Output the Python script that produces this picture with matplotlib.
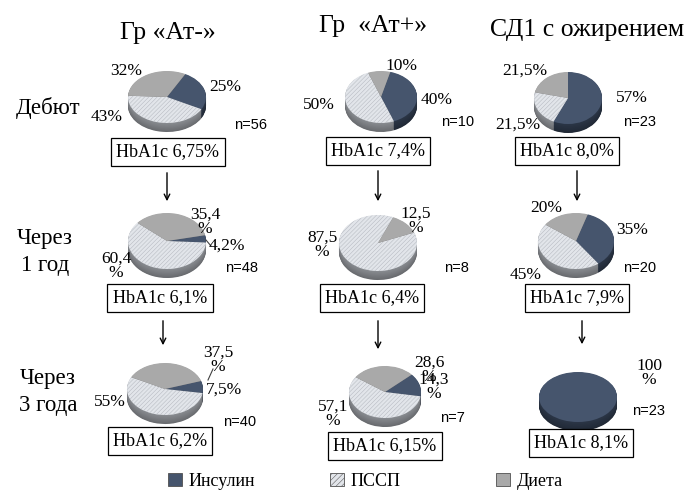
import numpy as np
import matplotlib
matplotlib.use('Agg')
import matplotlib.pyplot as plt
from matplotlib.patches import Patch
from matplotlib.colors import to_rgb

# данные
groups = ['Гр «Ат-»', 'Гр  «Ат+»', 'СД1 с ожирением']
periods = ['Дебют', 'Через\n1 год', 'Через\n3 года']
categories = ['Инсулин', 'ПССП', 'Диета']
insulin = [[25, 40, 57], [4.2, 0, 35], [7.5, 14.3, 100]]
pssp = [[43, 50, 21.5], [60.4, 87.5, 45], [55, 57.1, 0]]
dieta = [[32, 10, 21.5], [35.4, 12.5, 20], [37.5, 28.6, 0]]
n_patients = [[56, 10, 23], [48, 8, 20], [40, 7, 23]]
hba1c = [['6,75', '7,4', '8,0'], ['6,1', '6,4', '7,9'], ['6,2', '6,15', '8,1']]

W, H = 697, 493
top_cols = ['#46556d', '#e2e5ea', '#a9a9a9']
side_cols = ['#2c3748', '#8c8f94', '#6f6f6f']
plt.rcParams['hatch.linewidth'] = 0.35
serif = ['Liberation Serif', 'DejaVu Serif']
sans = ['Liberation Sans', 'DejaVu Sans']

# раскладка (пиксели): центр пирога, rx, ry, стартовый угол
pie_pos = [[(167, 97, 39, 26, 62), (381, 97, 36, 26, 75), (568, 98, 34, 26, 90)],
           [(167, 241, 39, 28, 12), (378, 243, 39, 28, 22), (576, 241, 38, 28, 72)],
           [(165, 389, 38, 26, 18), (385, 392, 36, 26, 42), (578, 397, 39, 25, 90)]]
thick = 9
box_pos = [[(168, 152), (378, 151), (567, 151)],
           [(160, 298), (372, 298), (577, 298)],
           [(160, 441), (385, 446), (581, 443)]]
n_pos = [[(251, 125), (458, 122), (640, 122)],
         [(242, 268), (456, 268), (640, 268)],
         [(240, 422), (452, 418), (649, 411)]]
# позиции подписей долей: (x, y, перенос %) для Инсулин, ПССП, Диета
lab_pos = [[[(225, 87, 0), (107, 117, 0), (126, 71, 0)],
            [(437, 100, 0), (319, 105, 0), (401, 66, 0)],
            [(632, 98, 0), (518, 125, 0), (525, 71, 0)]],
           [[(227, 246, 0), (116, 266, 1), (205, 222, 1)],
            [None, (322, 245, 1), (416, 221, 1)],
            [(632, 230, 0), (526, 275, 0), (546, 208, 0)]],
           [[(224, 390, 0), (110, 402, 0), (218, 360, 1)],
            [(434, 387, 1), (333, 414, 1), (429, 370, 1)],
            [(649, 373, 1), None, None]]]

fig = plt.figure(figsize=(W / 100, H / 100), dpi=100)
fig.patch.set_facecolor('white')


def shade(c, k):
    r, g, b = to_rgb(c)
    return (r * k, g * k, b * k)


for i in range(3):
    for j in range(3):
        cx, cy, rx, ry, start = pie_pos[i][j]
        vals = [insulin[i][j], pssp[i][j], dieta[i][j]]
        m = 2
        ax = fig.add_axes([(cx - rx - m) / W, 1 - (cy + ry + thick + m) / H,
                           (2 * rx + 2 * m) / W, (2 * ry + thick + 2 * m) / H])
        offs = np.linspace(thick / ry, 0, 16)
        for k, off in enumerate(offs[:-1]):
            f = 0.75 + 0.25 * k / len(offs)
            ax.pie(vals, colors=[shade(c, f) for c in side_cols], startangle=start,
                   counterclock=False, center=(0, -off), radius=1,
                   wedgeprops=dict(linewidth=0))
        wedges, _ = ax.pie(vals, colors=top_cols, startangle=start, counterclock=False,
                           center=(0, 0), radius=1, wedgeprops=dict(linewidth=0))
        wedges[1].set_hatch('////////')
        wedges[1].set_edgecolor('#b3b7be')
        ax.set_aspect('auto')
        ax.set_xlim(-1 - m / rx, 1 + m / rx)
        ax.set_ylim(-1 - (thick + m) / ry, 1 + m / ry)
        ax.axis('off')

canvas = fig.add_axes([0, 0, 1, 1])
canvas.set_xlim(0, W)
canvas.set_ylim(H, 0)
canvas.axis('off')
canvas.patch.set_alpha(0)
canvas.set_zorder(10)

# заголовки групп
title_pos = [(168, 33), (373, 26), (587, 30)]
for g, (x, y) in zip(groups, title_pos):
    canvas.text(x, y, g, ha='center', va='center', fontsize=18.5, family=serif)

period_pos = [(48, 108), (45, 252), (48, 392)]
for p, (x, y) in zip(periods, period_pos):
    canvas.text(x, y, p, ha='center', va='center', fontsize=16.5, family=serif,
                linespacing=1.35)

for i in range(3):
    for j in range(3):
        vals = [insulin[i][j], pssp[i][j], dieta[i][j]]
        for v, pos in zip(vals, lab_pos[i][j]):
            if pos is None or v == 0:
                continue
            x, y, wrap = pos
            s = f'{v:g}'.replace('.', ',')
            s = s + ('\n%' if wrap else '%')
            canvas.text(x, y, s, ha='center', va='center', fontsize=12.5,
                        family=serif, linespacing=0.9)
        bx, by = box_pos[i][j]
        canvas.text(bx, by, f'HbA1c {hba1c[i][j]}%', ha='center', va='center',
                    fontsize=13, family=serif,
                    bbox=dict(boxstyle='square,pad=0.3', fc='white', ec='black', lw=0.9))
        nx, ny = n_pos[i][j]
        canvas.text(nx, ny, f'n={n_patients[i][j]}', ha='center', va='center',
                    fontsize=10.5, family=sans)

# выноски
canvas.plot([206, 211], [240, 246], color='#404040', lw=0.8)
canvas.plot([208, 213], [380, 369], color='#404040', lw=0.8)

# стрелки
arrows = [((167, 170), (167, 204)), ((378, 168), (378, 204)), ((577, 168), (577, 204)),
          ((163, 318), (163, 348)), ((378, 318), (378, 352)), ((582, 318), (582, 347))]
for (x0, y0), (x1, y1) in arrows:
    canvas.annotate('', xy=(x1, y1), xytext=(x0, y0),
                    arrowprops=dict(arrowstyle='->', color='black', lw=1.0))

# легенда
leg_x = [168, 330, 496]
for c, col, lx in zip(categories, top_cols, leg_x):
    h = Patch(facecolor=col, edgecolor='#505050', lw=0.6,
              hatch='//////' if c == 'ПССП' else None)
    fig.legend([h], [c], loc='center left', bbox_to_anchor=(lx / W, 1 - 481 / H),
               frameon=False, handlelength=0.75, handleheight=0.75,
               handletextpad=0.4, borderpad=0, borderaxespad=0,
               prop=dict(family=serif, size=13))

fig.savefig('out.png', dpi=100)
